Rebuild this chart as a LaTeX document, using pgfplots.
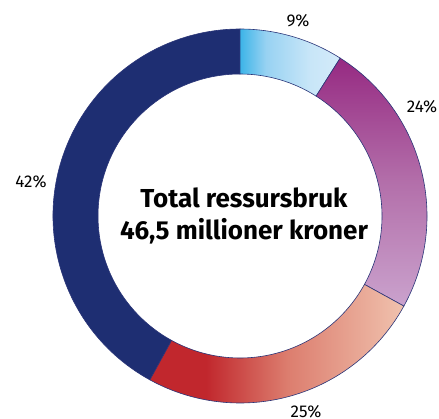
\documentclass[border=0pt]{standalone}
\usepackage{fontspec}
\setmainfont{Fira Sans}
\usepackage{pgfplots}
\usepackage{pgfplotstable}
\pgfplotsset{compat=1.18}
\definecolor{navy}{HTML}{1E2E72}
\definecolor{outline}{HTML}{2A3578}
\definecolor{bA}{HTML}{3CB4E8}
\definecolor{bB}{HTML}{98D2F2}
\definecolor{bC}{HTML}{C8E6F8}
\definecolor{bD}{HTML}{D4EBFA}
\definecolor{pA}{HTML}{962A82}
\definecolor{pB}{HTML}{B36FAA}
\definecolor{pC}{HTML}{CAA2CD}
\definecolor{rA}{HTML}{C1272D}
\definecolor{rB}{HTML}{DC7D6E}
\definecolor{rC}{HTML}{F0C2AE}
\pgfdeclarehorizontalshading{bluegrad}{100bp}{color(0bp)=(bA); color(25bp)=(bA); color(38bp)=(bB); color(60bp)=(bC); color(75bp)=(bD); color(100bp)=(bD)}
\pgfdeclareverticalshading{purplegrad}{100bp}{color(0bp)=(pC); color(25bp)=(pC); color(50bp)=(pB); color(75bp)=(pA); color(100bp)=(pA)}
\pgfdeclarehorizontalshading{redgrad}{100bp}{color(0bp)=(rA); color(25bp)=(rA); color(36bp)=(rA); color(52bp)=(rB); color(75bp)=(rC); color(100bp)=(rC)}
\pgfplotstableread{
share
9
24
25
42
}\shares
\newcommand\seg[3]{%
  \path[draw=outline, line width=0.6pt, #3]
    (axis cs:{240+187*cos(#1)},{202+187*sin(#1)})
    arc[start angle=#1, end angle=#2, radius=187pt]
    -- (axis cs:{240+142*cos(#2)},{202+142*sin(#2)})
    arc[start angle=#2, end angle=#1, radius=142pt] -- cycle;}
\begin{document}
\begin{tikzpicture}
\pgfplotstablegetelem{0}{share}\of\shares\pgfmathsetmacro\sA{\pgfplotsretval}
\pgfplotstablegetelem{1}{share}\of\shares\pgfmathsetmacro\sB{\pgfplotsretval}
\pgfplotstablegetelem{2}{share}\of\shares\pgfmathsetmacro\sC{\pgfplotsretval}
\pgfplotstablegetelem{3}{share}\of\shares\pgfmathsetmacro\sD{\pgfplotsretval}
\pgfmathsetmacro\aA{90}
\pgfmathsetmacro\aB{\aA-3.6*\sA}
\pgfmathsetmacro\aC{\aB-3.6*\sB}
\pgfmathsetmacro\aD{\aC-3.6*\sC}
\pgfmathsetmacro\aE{\aD-3.6*\sD}
\begin{axis}[scale only axis, width=439pt, height=418pt,
  xmin=0, xmax=439, ymin=0, ymax=418, hide axis, clip=false]
\seg{\aD}{\aE}{fill=navy}
\seg{\aA}{\aB}{shade, shading=bluegrad}
\seg{\aB}{\aC}{shade, shading=purplegrad}
\seg{\aC}{\aD}{shade, shading=redgrad}
\node[font=\fontsize{17}{20}\selectfont] at (axis cs:298,397) {9\%};
\node[font=\fontsize{17}{20}\selectfont] at (axis cs:422,311) {24\%};
\node[font=\fontsize{17}{20}\selectfont] at (axis cs:306,6) {25\%};
\node[font=\fontsize{17}{20}\selectfont] at (axis cs:31,236) {42\%};
\node[align=center, font=\bfseries\fontsize{26}{32}\selectfont] at (axis cs:244,202) {Total ressursbruk\\46,5 millioner kroner};
\end{axis}
\pgfresetboundingbox
\useasboundingbox (current axis.south west) rectangle (current axis.north east);
\end{tikzpicture}
\end{document}
